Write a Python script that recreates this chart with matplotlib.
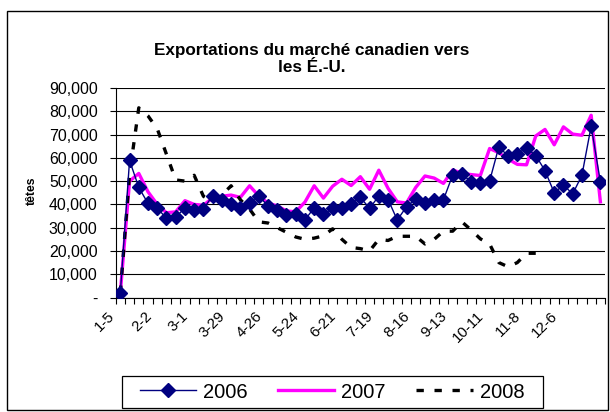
import matplotlib
matplotlib.use("Agg")
import matplotlib.pyplot as plt
from matplotlib.ticker import FixedLocator, FuncFormatter
from matplotlib.patches import Rectangle
from matplotlib.transforms import ScaledTranslation

plt.rcParams['font.family'] = ['Liberation Sans', 'DejaVu Sans']

title = "Exportations du marché canadien vers\nles É.-U."
ylabel = "têtes"

tick_labels = ["1-5", "2-2", "3-1", "3-29", "4-26", "5-24", "6-21",
               "7-19", "8-16", "9-13", "10-11", "11-8", "12-6"]

s2006 = [2000, 58900, 47300, 40400, 38400, 34000, 34700, 38300, 37400, 38000,
         43800, 41800, 40000, 38300, 40800, 43600, 39300, 37600, 35600, 35800,
         33300, 38600, 35700, 38300, 38300, 40200, 43000, 38300, 43600, 42100,
         33300, 39000, 42300, 40800, 41700, 42000, 52600, 52900, 49800, 49400,
         50000, 64700, 60800, 61800, 64200, 61000, 54500, 45000, 48300, 44500,
         52500, 73600, 49700]

s2007 = [2000, 50000, 53300, 45400, 40000, 36400, 36800, 41600, 40000, 39600,
         42800, 43500, 44000, 43000, 48000, 43600, 40600, 39300, 37200, 36800,
         41000, 48000, 42700, 47800, 50800, 48100, 51900, 46500, 54700, 46900,
         41100, 40600, 47300, 52200, 51300, 49000, 54800, 53400, 52800, 52400,
         64000, 62200, 59500, 57200, 57000, 69400, 72200, 65600, 73300, 70200,
         69700, 78300, 41100]

s2008 = [2000, 53000, 81500, 78000, 72500, 61500, 50500, 50000, 52500, 43500,
         41000, 44000, 48000, 42000, 38000, 32500, 32000, 30000, 28000, 26000,
         25000, 25500, 26500, 29500, 25000, 21500, 21000, 20000, 25000, 24500,
         26300, 26300, 26300, 23000, 25000, 28500, 28500, 32500, 29000, 25200,
         23000, 15000, 13200, 15000, 19000, 19000]

series_names = ["2006", "2007", "2008"]

W, H = 610, 412
fig = plt.figure(figsize=(W / 100, H / 100), dpi=100)
fig.patch.set_facecolor('white')

# chart border
fig.patches.append(Rectangle((7 / W, 2 / H), 601 / W, 399 / H, transform=fig.transFigure,
                             fill=False, edgecolor='black', linewidth=1.0))

left, right = 115.7, 605.0
top, bottom = 88.0, 297.5
ax = fig.add_axes([left / W, 1 - bottom / H, (right - left) / W, (bottom - top) / H])

n = len(s2006)
x06 = list(range(len(s2006)))
x07 = list(range(len(s2007)))
x08 = list(range(len(s2008)))

ax.plot(x07, s2007, color='#FF00FF', linewidth=2.4, zorder=3, label=series_names[1])
ax.plot(x08, s2008, color='black', linewidth=2.4, linestyle=(0, (2.2, 3.2)),
        dash_capstyle='butt', zorder=4, label=series_names[2])
ax.plot(x06, s2006, color='#000080', linewidth=1.0, marker='D', markersize=6.8,
        markerfacecolor='#000080', markeredgecolor='#000080', zorder=5, label=series_names[0])

ax.set_xlim(-0.5, n - 0.5)
ax.set_ylim(0, 90000)

ax.yaxis.set_major_locator(FixedLocator(range(0, 90001, 10000)))
ax.yaxis.set_major_formatter(FuncFormatter(lambda v, p: "-" if v == 0 else f"{int(v):,}"))
ax.grid(axis='y', color='black', linewidth=0.8)
ax.set_axisbelow(True)

ax.set_xticks(range(0, 4 * len(tick_labels), 4))
ax.set_xticklabels(tick_labels, rotation=45, ha='right', va='center', rotation_mode='anchor')
ax.xaxis.set_minor_locator(FixedLocator([i - 0.5 for i in range(n + 1)]))
ax.tick_params(axis='x', which='major', length=0, pad=12, labelsize=10.8)
ax.tick_params(axis='x', which='minor', length=4, width=0.8, direction='out')
ax.tick_params(axis='y', which='major', length=4, width=0.8, direction='out', labelsize=11.4, pad=9)
shift = ScaledTranslation(-8 / 100, 0, fig.dpi_scale_trans)
for lab in ax.get_xticklabels():
    lab.set_transform(lab.get_transform() + shift)

for s in ['top', 'right']:
    ax.spines[s].set_visible(False)
ax.spines['left'].set_linewidth(0.8)
ax.spines['bottom'].set_linewidth(0.8)

fig.text(312 / W, 1 - 59 / H, title, ha='center', va='center', fontsize=12.3,
         fontweight='bold', linespacing=1.12)
fig.text(32 / W, 1 - 191 / H, ylabel, ha='center', va='center', rotation=90,
         fontsize=8.8, fontweight='bold')

handles, labels = ax.get_legend_handles_labels()
order = [2, 0, 1]
leg = fig.legend([handles[i] for i in order], [labels[i] for i in order],
                 loc='center', bbox_to_anchor=(332 / W, 1 - 392 / H), ncol=3,
                 frameon=False, fontsize=14.5,
                 handlelength=2.8, columnspacing=1.5, handletextpad=0.35)
fig.patches.append(Rectangle((122 / W, 1 - 408 / H), 421 / W, 32 / H, transform=fig.transFigure,
                             fill=False, edgecolor='black', linewidth=0.9))

fig.savefig("out.png", dpi=100)
